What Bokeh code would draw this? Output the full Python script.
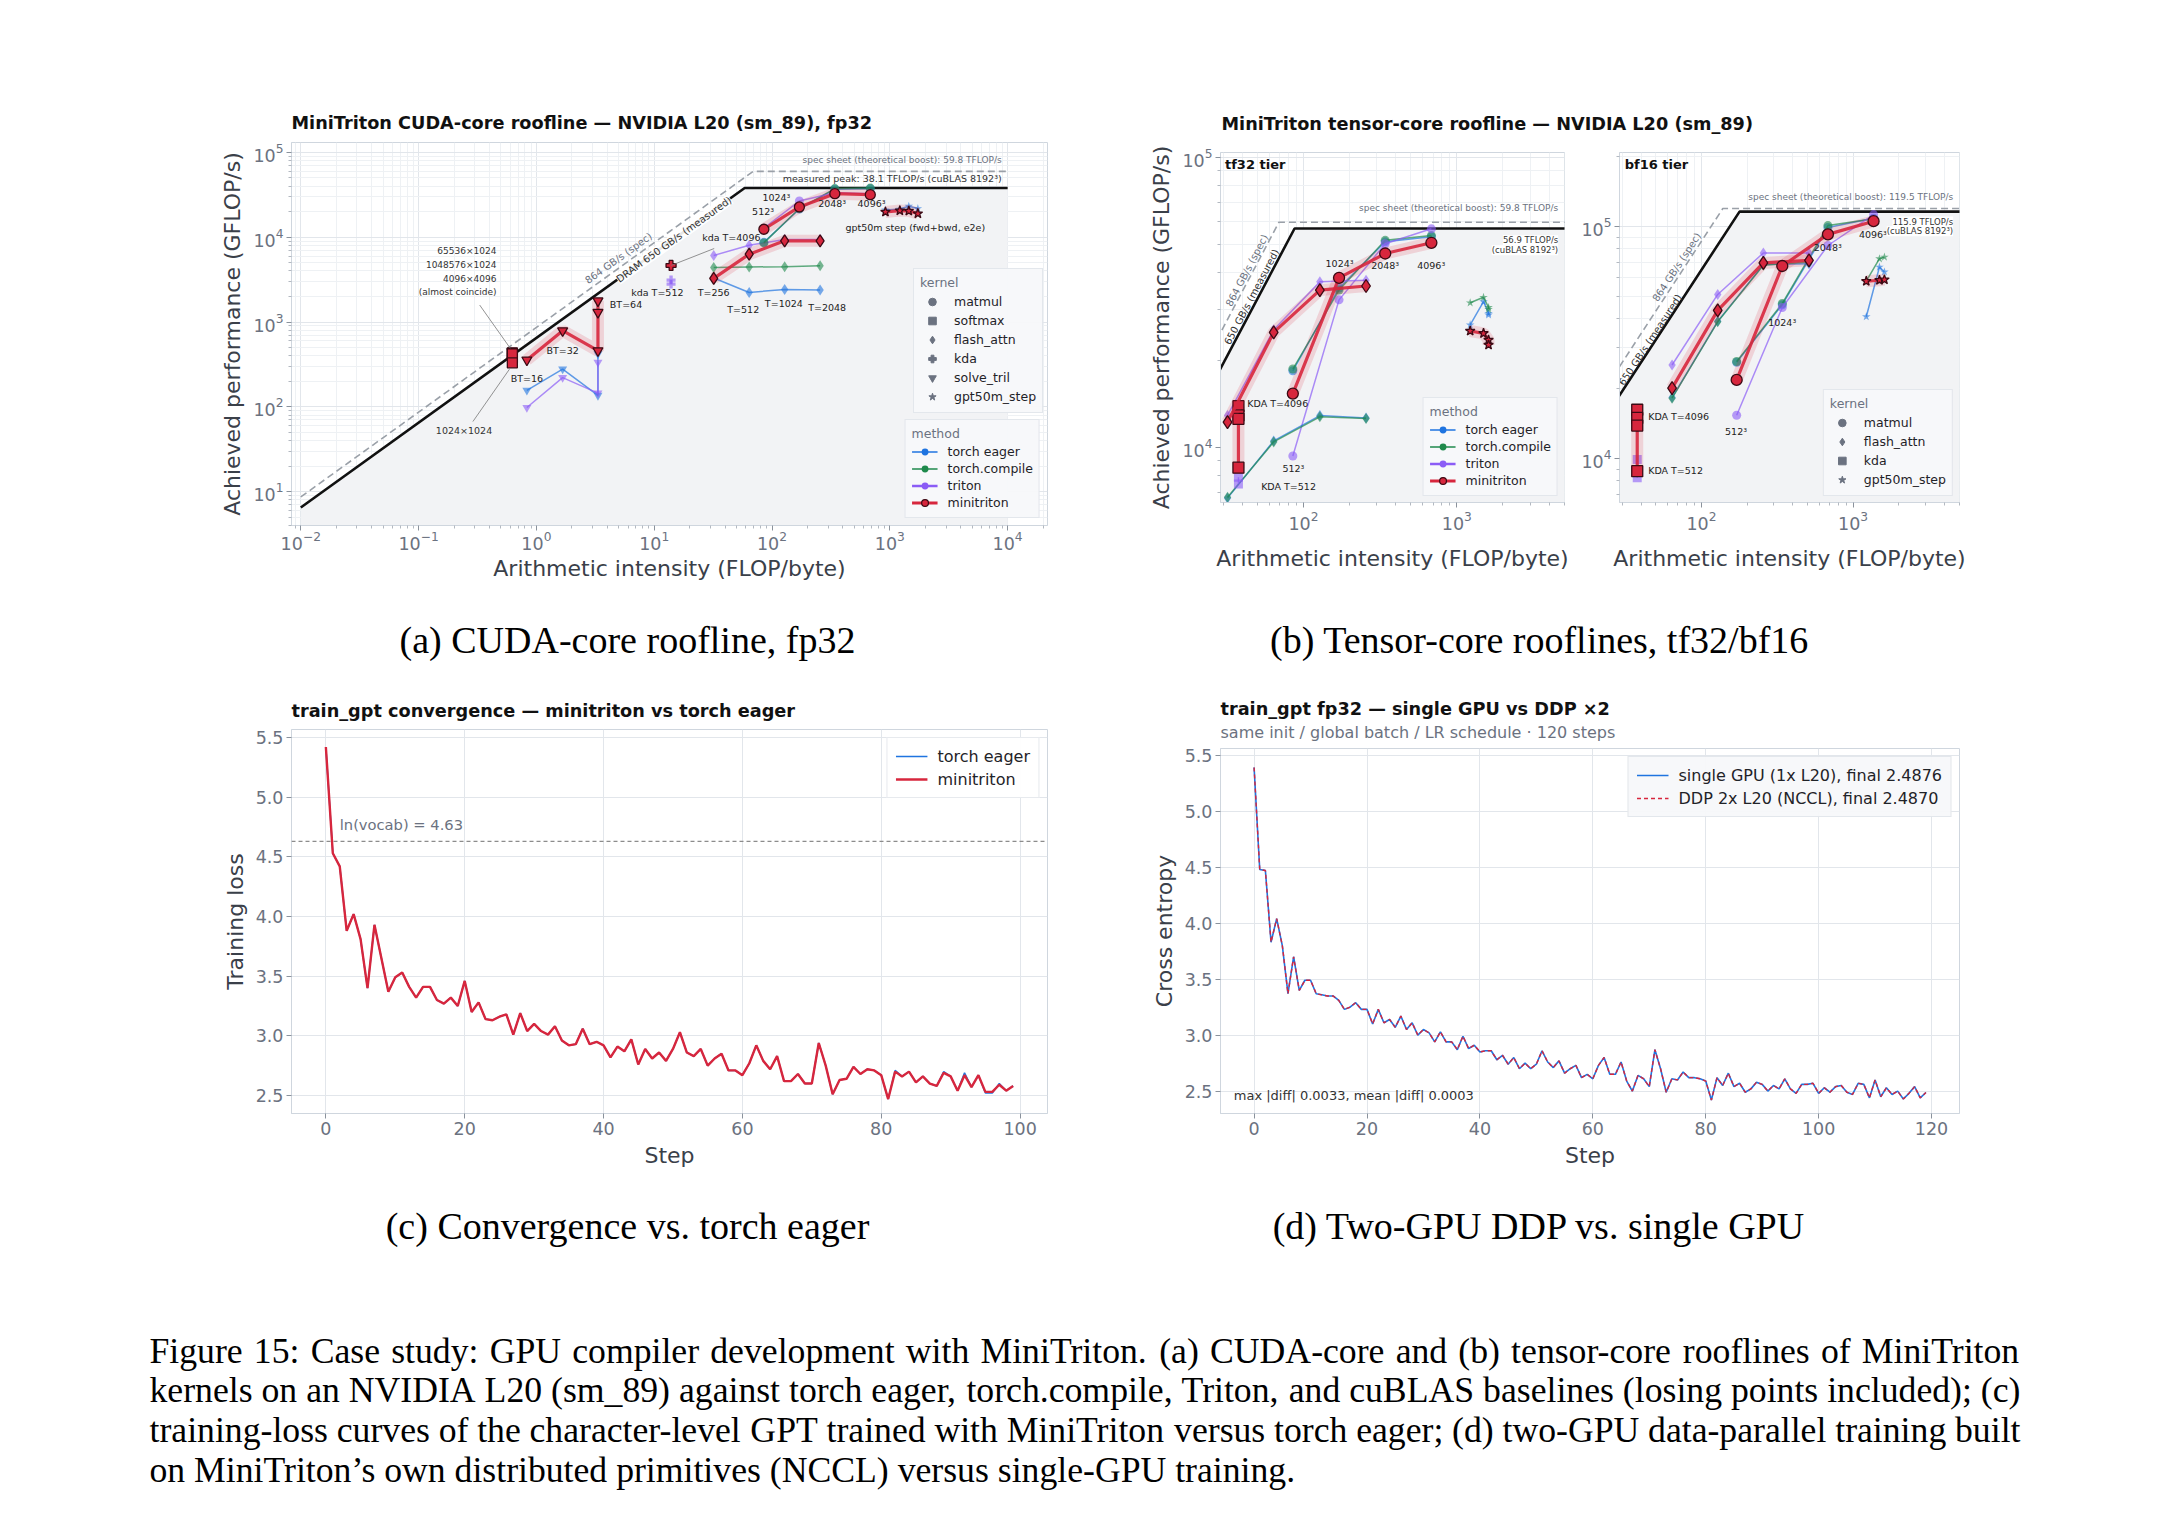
import numpy as np
from bokeh.plotting import figure
from bokeh.models import (Range1d, FixedTicker, LogTickFormatter, Legend, LegendItem,
                          Title, Label, Span, NumeralTickFormatter, Spacer)
from bokeh.layouts import column, row
from bokeh.core.properties import value
from bokeh.embed import file_html
from bokeh.resources import INLINE

FONT = "DejaVu Sans"
SERIF = "Liberation Serif"
C_EAGER = "#1f74e0"
C_COMPILE = "#1f8a4c"
C_TRITON = "#8b5cf6"
C_MINI = "#d7263d"
C_EDGE = "#3b0a14"
C_KERNEL = "#6b7280"
TICK_C = "#6b7280"
LABEL_C = "#3a4049"
GRID_C = "#e2e6eb"
MINOR_C = "#eef1f4"
SPINE_C = "#cfd6de"
SHADE_C = "#f2f3f5"
TITLE_SIZE = "17.7px"
TICK_SIZE = "17.5px"
AXLABEL_SIZE = "22px"

# ---------------- panel (a): CUDA-core roofline, fp32 ----------------
A_BW_MEAS, A_PEAK_MEAS = 650.0, 38100.0
A_BW_SPEC, A_PEAK_SPEC = 864.0, 59800.0
A_XTICKS = [1e-2, 1e-1, 1e0, 1e1, 1e2, 1e3, 1e4]
A_YTICKS = [1e1, 1e2, 1e3, 1e4, 1e5]

A_SOFTMAX_AI = [0.625, 0.625, 0.625, 0.625]
A_SOFTMAX_MINI = [432, 426, 420, 330]

A_TRIL_AI_MINI = [0.83, 1.67, 3.33, 3.33, 3.33]
A_TRIL_MINI = [357, 790, 459, 1300, 1780]
A_TRIL_AI_BASE = [0.83, 1.67, 3.33, 3.33]
A_TRIL_EAGER = [156, 278, 136, 420]
A_TRIL_TRITON = [98, 221, 145, 335]

A_KDA_AI_MINI = [13.9]
A_KDA_MINI = [4650]
A_KDA_AI_TRITON = [13.9, 13.9]
A_KDA_TRITON = [3120, 2800]

A_FLASH_AI = [32, 64, 128, 256]
A_FLASH_MINI = [3270, 6310, 9060, 9060]
A_FLASH_COMPILE = [4400, 4450, 4500, 4600]
A_FLASH_EAGER = [3300, 2230, 2425, 2380]
A_FLASH_TRITON = [6100, 8050, 9400, 9400]

A_MM_AI = [85.3, 170.7, 341.3, 682.7]
A_MM_MINI = [12420, 22750, 32650, 31770]
A_MM_COMPILE = [8570, 21790, 37440, 38000]
A_MM_EAGER = [8700, 21500, 37000, 37500]
A_MM_TRITON = [12800, 26730, 33500, 32500]

A_GPT_AI = [918, 1216, 1449, 1730]
A_GPT_MINI = [19870, 20610, 20390, 19010]
A_GPT_EAGER = [21000, 21500, 23200, 21800]

# ---------------- panel (b): tensor-core rooflines ----------------
B_BW_MEAS, B_BW_SPEC = 650.0, 864.0
TF32_PEAK_MEAS, TF32_PEAK_SPEC = 56900.0, 59800.0
BF16_PEAK_MEAS, BF16_PEAK_SPEC = 115900.0, 119500.0
B_XTICKS = [1e2, 1e3]
B_YTICKS = [1e4, 1e5]

TF_MM_AI = [85.3, 170.7, 341.3, 682.7]
TF_MM_MINI = [15350, 38460, 46660, 50800]
TF_MM_COMPILE = [18660, 34900, 51800, 53800]
TF_MM_EAGER = [18400, 35500, 51200, 53300]
TF_MM_TRITON = [9360, 32300, 50400, 56750]

TF_FA_AI = [32, 64, 128, 256]
TF_FA_MINI = [12250, 24950, 34900, 36060]
TF_FA_TRITON = [12910, 25460, 37260, 37750]
TF_FA_COMPILE = [6740, 10460, 12770, 12610]
TF_FA_EAGER = [6700, 10550, 12900, 12650]

TF_KDA_AI = [37.7, 37.7, 37.7, 37.7]
TF_KDA_MINI = [13890, 12910, 12570, 8530]
TF_KDA_AI_TRITON = [37.7, 37.7]
TF_KDA_TRITON = [7900, 7500]

TF_GPT_AI = [1222, 1493, 1610, 1610]
TF_GPT_MINI = [25230, 24770, 23490, 22590]
TF_GPT_COMPILE = [31560, 32960, 30430, 29970]
TF_GPT_EAGER = [26490, 31840, 29040, 28660]

BF_MM_AI = [170.7, 341.3, 682.7, 1365.3]
BF_MM_MINI = [21810, 67570, 92470, 105400]
BF_MM_COMPILE = [26180, 46560, 100900, 107900]
BF_MM_EAGER = [26000, 46000, 99000, 108500]
BF_MM_TRITON = [15350, 44770, 82800, 112500]

BF_FA_AI = [64, 128, 256, 512]
BF_FA_MINI = [20100, 43510, 69660, 71470]
BF_FA_TRITON = [25290, 50930, 76900, 76900]
BF_FA_COMPILE = [18200, 38820, 68060, 70300]
BF_FA_EAGER = [18300, 39000, 68500, 69000]

BF_KDA_AI = [37.7, 37.7, 37.7, 37.7]
BF_KDA_MINI = [16220, 14950, 13860, 8820]
BF_KDA_AI_TRITON = [37.7, 37.7]
BF_KDA_TRITON = [9900, 8260]

BF_GPT_AI = [1222, 1493, 1610]
BF_GPT_MINI = [58070, 58660, 59000]
BF_GPT_COMPILE = [58070, 72600, 73800]
BF_GPT_EAGER = [40830, 66860, 63700]

# ---------------- panel (c): convergence ----------------
C_STEP = list(range(100))
C_MINI_LOSS = [5.42, 4.53, 4.42, 3.88, 4.02, 3.81, 3.40, 3.93, 3.65, 3.37,
               3.49, 3.53, 3.41, 3.32, 3.41, 3.41, 3.30, 3.27, 3.32, 3.25,
               3.46, 3.20, 3.28, 3.14, 3.13, 3.16, 3.18, 3.01, 3.19, 3.04,
               3.10, 3.04, 3.01, 3.08, 2.96, 2.92, 2.93, 3.06, 2.93, 2.95,
               2.92, 2.82, 2.91, 2.87, 2.97, 2.76, 2.89, 2.81, 2.86, 2.79,
               2.89, 3.03, 2.86, 2.83, 2.89, 2.75, 2.81, 2.85, 2.71, 2.71,
               2.67, 2.77, 2.92, 2.79, 2.72, 2.83, 2.62, 2.62, 2.68, 2.60,
               2.60, 2.94, 2.75, 2.51, 2.63, 2.64, 2.74, 2.68, 2.72, 2.71,
               2.67, 2.47, 2.70, 2.66, 2.70, 2.61, 2.66, 2.60, 2.58, 2.69,
               2.66, 2.54, 2.67, 2.57, 2.67, 2.53, 2.53, 2.59, 2.54, 2.58]
C_EAGER_LOSS = [5.42, 4.53, 4.42, 3.88, 4.02, 3.81, 3.40, 3.93, 3.65, 3.37,
                3.49, 3.53, 3.41, 3.32, 3.41, 3.41, 3.30, 3.27, 3.32, 3.25,
                3.46, 3.20, 3.28, 3.14, 3.13, 3.16, 3.18, 3.01, 3.19, 3.04,
                3.10, 3.04, 3.01, 3.08, 2.96, 2.92, 2.93, 3.06, 2.93, 2.95,
                2.92, 2.82, 2.91, 2.87, 2.97, 2.76, 2.89, 2.81, 2.86, 2.79,
                2.89, 3.03, 2.86, 2.83, 2.89, 2.75, 2.81, 2.85, 2.71, 2.71,
                2.67, 2.77, 2.92, 2.79, 2.72, 2.83, 2.62, 2.62, 2.68, 2.60,
                2.60, 2.94, 2.75, 2.51, 2.63, 2.64, 2.74, 2.68, 2.72, 2.71,
                2.67, 2.47, 2.71, 2.66, 2.70, 2.61, 2.66, 2.60, 2.58, 2.70,
                2.66, 2.54, 2.69, 2.57, 2.67, 2.52, 2.52, 2.60, 2.54, 2.58]
C_VOCAB_LN = 4.63
C_XTICKS = [0, 20, 40, 60, 80, 100]
C_YTICKS = [2.5, 3.0, 3.5, 4.0, 4.5, 5.0, 5.5]

# ---------------- panel (d): DDP vs single GPU ----------------
D_STEP = list(range(120))
D_SINGLE = [5.39, 4.48, 4.47, 3.83, 4.04, 3.80, 3.37, 3.70, 3.40, 3.49,
            3.49, 3.37, 3.36, 3.35, 3.35, 3.31, 3.23, 3.25, 3.29, 3.23,
            3.23, 3.10, 3.23, 3.11, 3.14, 3.07, 3.17, 3.05, 3.11, 3.00,
            3.05, 3.02, 2.94, 3.03, 2.94, 2.94, 2.87, 2.99, 2.88, 2.91,
            2.85, 2.86, 2.86, 2.78, 2.82, 2.74, 2.80, 2.70, 2.75, 2.70,
            2.74, 2.86, 2.76, 2.71, 2.77, 2.66, 2.70, 2.73, 2.62, 2.65,
            2.61, 2.73, 2.80, 2.65, 2.65, 2.76, 2.59, 2.50, 2.64, 2.61,
            2.54, 2.87, 2.70, 2.49, 2.61, 2.60, 2.67, 2.62, 2.62, 2.61,
            2.59, 2.42, 2.62, 2.55, 2.66, 2.54, 2.57, 2.49, 2.52, 2.58,
            2.56, 2.50, 2.55, 2.52, 2.61, 2.52, 2.48, 2.56, 2.56, 2.57,
            2.48, 2.53, 2.49, 2.54, 2.55, 2.49, 2.47, 2.57, 2.56, 2.44,
            2.60, 2.45, 2.53, 2.47, 2.50, 2.43, 2.48, 2.54, 2.44, 2.4876]
D_DDP = [5.39, 4.48, 4.47, 3.83, 4.04, 3.80, 3.37, 3.70, 3.40, 3.49,
         3.49, 3.37, 3.36, 3.35, 3.35, 3.31, 3.23, 3.25, 3.29, 3.23,
         3.23, 3.10, 3.23, 3.11, 3.14, 3.07, 3.17, 3.05, 3.11, 3.00,
         3.05, 3.02, 2.94, 3.03, 2.94, 2.94, 2.87, 2.99, 2.88, 2.91,
         2.85, 2.86, 2.86, 2.78, 2.82, 2.74, 2.80, 2.70, 2.75, 2.70,
         2.74, 2.86, 2.76, 2.71, 2.77, 2.66, 2.70, 2.73, 2.62, 2.65,
         2.61, 2.73, 2.80, 2.65, 2.65, 2.76, 2.59, 2.50, 2.64, 2.61,
         2.54, 2.87, 2.70, 2.49, 2.61, 2.60, 2.67, 2.62, 2.62, 2.61,
         2.59, 2.42, 2.62, 2.55, 2.66, 2.54, 2.57, 2.49, 2.52, 2.58,
         2.56, 2.50, 2.55, 2.52, 2.61, 2.52, 2.48, 2.56, 2.56, 2.57,
         2.48, 2.53, 2.49, 2.54, 2.55, 2.49, 2.47, 2.57, 2.56, 2.44,
         2.60, 2.45, 2.53, 2.47, 2.50, 2.43, 2.48, 2.54, 2.44, 2.4870]
D_XTICKS = [0, 20, 40, 60, 80, 100, 120]
D_YTICKS = [2.5, 3.0, 3.5, 4.0, 4.5, 5.0, 5.5]

MINOR_LOG = [k * 10.0 ** d for d in range(-3, 6) for k in range(2, 10)]

CAPTION = [
    "Figure 15: Case study: GPU compiler development with MiniTriton. (a) CUDA-core and (b) tensor-core rooflines of MiniTriton",
    "kernels on an NVIDIA L20 (sm_89) against torch eager, torch.compile, Triton, and cuBLAS baselines (losing points included); (c)",
    "training-loss curves of the character-level GPT trained with MiniTriton versus torch eager; (d) two-GPU data-parallel training built",
    "on MiniTriton\u2019s own distributed primitives (NCCL) versus single-GPU training.",
]

# Times/Liberation Serif advance widths (per 1000 em), used to justify the caption
_TW = {" ": 250, "(": 333, ")": 333, ",": 250, "-": 333, ".": 250, ":": 278, ";": 278,
       "_": 500, "\u2019": 333, "/": 278}
for _c in "0123456789":
    _TW[_c] = 500
_TW.update(dict(zip("ABCDEFGHIJKLMNOPQRSTUVWXYZ",
                    [722, 667, 667, 722, 611, 556, 722, 722, 333, 389, 722, 611, 889,
                     722, 722, 556, 722, 667, 556, 611, 722, 722, 944, 722, 722, 611])))
_TW.update(dict(zip("abcdefghijklmnopqrstuvwxyz",
                    [444, 500, 444, 500, 444, 333, 500, 500, 278, 278, 500, 278, 778,
                     500, 500, 500, 500, 333, 389, 278, 500, 500, 722, 500, 500, 444])))


def serif_width(s, size):
    return sum(_TW.get(ch, 500) for ch in s) / 1000.0 * size


# ---------------- helpers ----------------
def base_fig(w, h, xr, yr, xtype, ytype, bl, br, bt, bb):
    p = figure(width=w, height=h, x_range=Range1d(*xr), y_range=Range1d(*yr),
               x_axis_type=xtype, y_axis_type=ytype, output_backend="svg",
               toolbar_location=None, title=None,
               min_border_left=bl, min_border_right=br, min_border_top=bt, min_border_bottom=bb)
    p.background_fill_color = "white"
    p.border_fill_color = "white"
    p.outline_line_color = SPINE_C
    p.outline_line_width = 1
    for ax in [p.xaxis[0], p.yaxis[0]]:
        ax.axis_line_color = SPINE_C
        ax.major_tick_line_color = "#8a929c"
        ax.minor_tick_line_color = "#b3b9c1"
        ax.major_tick_in = 0
        ax.major_tick_out = 5
        ax.minor_tick_in = 0
        ax.minor_tick_out = 3
        ax.major_label_standoff = 3
        ax.major_label_text_font = FONT
        ax.major_label_text_font_size = TICK_SIZE
        ax.major_label_text_color = TICK_C
        ax.axis_label_text_font = FONT
        ax.axis_label_text_font_size = AXLABEL_SIZE
        ax.axis_label_text_font_style = "normal"
        ax.axis_label_text_color = LABEL_C
        ax.axis_label_standoff = 5
    p.xgrid.grid_line_color = GRID_C
    p.ygrid.grid_line_color = GRID_C
    return p


def log_ticks(p, xt, yt):
    p.xaxis[0].ticker = FixedTicker(ticks=xt, minor_ticks=MINOR_LOG)
    p.yaxis[0].ticker = FixedTicker(ticks=yt, minor_ticks=MINOR_LOG)
    p.xaxis[0].formatter = LogTickFormatter()
    p.yaxis[0].formatter = LogTickFormatter()
    p.xgrid.minor_grid_line_color = MINOR_C
    p.ygrid.minor_grid_line_color = MINOR_C


def txt(p, x, y, s, size, color="#222222", align="left", baseline="middle",
        style="normal", angle=0.0, font=FONT):
    p.text(x=[x], y=[y], text=[s], text_font=value(font), text_font_size=size,
           text_color=color, text_align=align, text_baseline=baseline,
           text_font_style=style, angle=angle)


def box_label(p, x, y, s, size, color="#222222", align="center", angle=0.0, alpha=0.9):
    p.add_layout(Label(x=x, y=y, text=s, text_font=FONT, text_font_size=size,
                       text_color=color, text_align=align, text_baseline="middle",
                       angle=angle, background_fill_color="white",
                       background_fill_alpha=alpha))


def draw_roof(p, x0, x1, bw_m, pk_m, bw_s, pk_s, ybot):
    xm = [x0, pk_m / bw_m, x1]
    ym = [min(bw_m * x, pk_m) for x in xm]
    xs = [x0, pk_s / bw_s, x1]
    ys = [min(bw_s * x, pk_s) for x in xs]
    p.varea(x=xm, y1=[ybot] * 3, y2=ym, fill_color=SHADE_C)
    p.line(xs, ys, line_color="#9aa0a8", line_dash="7 4", line_width=1.6)
    p.line(xm, ym, line_color="#111111", line_width=2.6)


def series(p, ai, perf, method, marker, msize=None):
    if method == "minitriton":
        p.line(ai, perf, line_color=C_MINI, line_width=12, line_alpha=0.16)
        p.line(ai, perf, line_color=C_MINI, line_width=3.2, line_alpha=0.9)
        p.scatter(ai, perf, marker=marker, size=msize or 11, fill_color=C_MINI,
                  line_color=C_EDGE, line_width=1.3)
    else:
        col = {"eager": C_EAGER, "compile": C_COMPILE, "triton": C_TRITON}[method]
        p.line(ai, perf, line_color=col, line_width=1.5, line_alpha=0.7)
        p.scatter(ai, perf, marker=marker, size=msize or 9, fill_color=col,
                  line_color=None, fill_alpha=0.6)


def style_legend(lg, size, gh=18):
    lg.label_text_font = FONT
    lg.label_text_font_size = size
    lg.label_text_color = "#1f2328"
    lg.title_text_font = FONT
    lg.title_text_font_size = size
    lg.title_text_font_style = "normal"
    lg.title_text_color = "#6b7280"
    lg.background_fill_color = "#f7f8fa"
    lg.background_fill_alpha = 0.95
    lg.border_line_color = "#cfd6de"
    lg.border_line_width = 1
    lg.glyph_width = 26
    lg.glyph_height = gh
    lg.label_standoff = 10
    lg.spacing = 0
    lg.padding = 6
    lg.title_standoff = 2
    lg.label_height = 14


def method_legend(p, loc, size, margin=6):
    items = []
    for name, col, lw, edge in [("torch eager", C_EAGER, 1.5, None),
                                ("torch.compile", C_COMPILE, 1.5, None),
                                ("triton", C_TRITON, 2.5, None),
                                ("minitriton", C_MINI, 3.2, C_EDGE)]:
        r1 = p.line([np.nan], [np.nan], line_color=col, line_width=lw)
        r2 = p.scatter([np.nan], [np.nan], marker="circle", size=8, fill_color=col,
                       line_color=edge, line_width=1.2)
        items.append(LegendItem(label=name, renderers=[r1, r2]))
    lg = Legend(items=items, title="method", location=loc, margin=margin)
    style_legend(lg, size, gh=17)
    p.add_layout(lg, "center")


def kernel_legend(p, names, markers, loc, size, margin=6):
    items = []
    for name, mk in zip(names, markers):
        r = p.scatter([np.nan], [np.nan], marker=mk, size=12, fill_color=C_KERNEL,
                      line_color=C_KERNEL)
        items.append(LegendItem(label=name, renderers=[r]))
    lg = Legend(items=items, title="kernel", location=loc, margin=margin)
    style_legend(lg, size, gh=19)
    lg.glyph_width = 24
    p.add_layout(lg, "center")


def text_fig(w, h):
    p = figure(width=w, height=h, x_range=Range1d(0, w), y_range=Range1d(h, 0),
               output_backend="svg", toolbar_location=None, title=None,
               x_axis_location=None, y_axis_location=None,
               min_border=0, min_border_left=0, min_border_right=0,
               min_border_top=0, min_border_bottom=0)
    p.grid.visible = False
    p.outline_line_color = None
    p.background_fill_color = "white"
    p.border_fill_color = "white"
    return p


# ---------------- header ----------------
hdr = text_fig(2160, 135)
txt(hdr, 291, 122, "MiniTriton CUDA-core roofline \u2014 NVIDIA L20 (sm_89), fp32", TITLE_SIZE,
    color="#111111", style="bold")
txt(hdr, 1221, 123, "MiniTriton tensor-core roofline \u2014 NVIDIA L20 (sm_89)", TITLE_SIZE,
    color="#111111", style="bold")

# ---------------- panel (a) ----------------
pa = base_fig(1110, 460, (0.00834, 21800), (3.98, 131000), "log", "log", 291, 63, 7, 70)
log_ticks(pa, A_XTICKS, A_YTICKS)
pa.xaxis.axis_label = "Arithmetic intensity (FLOP/byte)"
pa.yaxis.axis_label = "Achieved performance (GFLOP/s)"
pa.xaxis[0].major_label_standoff = 0
pa.xaxis[0].axis_label_standoff = 3
draw_roof(pa, 0.01, 1e4, A_BW_MEAS, A_PEAK_MEAS, A_BW_SPEC, A_PEAK_SPEC, 1.0)

series(pa, A_TRIL_AI_BASE, A_TRIL_EAGER, "eager", "inverted_triangle")
series(pa, A_TRIL_AI_BASE, A_TRIL_TRITON, "triton", "inverted_triangle")
series(pa, A_KDA_AI_TRITON, A_KDA_TRITON, "triton", "plus")
series(pa, A_FLASH_AI, A_FLASH_COMPILE, "compile", "diamond", 11)
series(pa, A_FLASH_AI, A_FLASH_EAGER, "eager", "diamond", 11)
series(pa, A_FLASH_AI, A_FLASH_TRITON, "triton", "diamond", 11)
series(pa, A_MM_AI, A_MM_EAGER, "eager", "circle")
series(pa, A_MM_AI, A_MM_COMPILE, "compile", "circle")
series(pa, A_MM_AI, A_MM_TRITON, "triton", "circle")
series(pa, A_GPT_AI, A_GPT_EAGER, "eager", "star")
series(pa, A_SOFTMAX_AI, A_SOFTMAX_MINI, "minitriton", "square", 10)
series(pa, A_TRIL_AI_MINI, A_TRIL_MINI, "minitriton", "inverted_triangle", 10)
series(pa, A_KDA_AI_MINI, A_KDA_MINI, "minitriton", "plus", 10)
series(pa, A_FLASH_AI, A_FLASH_MINI, "minitriton", "diamond", 12)
series(pa, A_MM_AI, A_MM_MINI, "minitriton", "circle", 10)
series(pa, A_GPT_AI, A_GPT_MINI, "minitriton", "star", 10)

txt(pa, 8900, 80600, "spec sheet (theoretical boost): 59.8 TFLOP/s", "9px", color="#6b7280", align="right")
txt(pa, 8900, 49900, "measured peak: 38.1 TFLOP/s (cuBLAS 8192\u00b3)", "9.5px", color="#333333", align="right")
txt(pa, 4.98, 5660, "864 GB/s (spec)", "10px", color="#6b7280", align="center", angle=0.623)
box_label(pa, 14.7, 9420, "DRAM 650 GB/s (measured)", "10px", color="#333333", angle=0.623)
for yy, s in [(6840, "65536\u00d71024"), (4690, "1048576\u00d71024"), (3210, "4096\u00d74096"),
              (2250, "(almost coincide)")]:
    txt(pa, 0.458, yy, s, "9px", color="#333333", align="right")
pa.line([0.33, 0.6], [1585, 490], line_color="#777777", line_width=0.8)
pa.line([0.289, 0.59], [67, 277], line_color="#777777", line_width=0.8)
txt(pa, 0.243, 52.6, "1024\u00d71024", "9.5px", color="#333333", align="center")
txt(pa, 0.83, 215, "BT=16", "9.5px", color="#222222", align="center")
txt(pa, 1.67, 459, "BT=32", "9.5px", color="#222222", align="center")
txt(pa, 4.2, 1614, "BT=64", "9.5px", color="#222222", align="left")
pa.line([13.9, 32.3], [4645, 7360], line_color="#777777", line_width=0.8)
txt(pa, 79.8, 9910, "kda T=4096", "9.5px", color="#222222", align="right")
txt(pa, 6.38, 2210, "kda T=512", "9.5px", color="#222222", align="left")
txt(pa, 32, 2210, "T=256", "9.5px", color="#222222", align="center")
txt(pa, 57, 1410, "T=512", "9.5px", color="#222222", align="center")
txt(pa, 126, 1660, "T=1024", "9.5px", color="#222222", align="center")
txt(pa, 294, 1472, "T=2048", "9.5px", color="#222222", align="center")
txt(pa, 84, 20230, "512\u00b3", "9.5px", color="#222222", align="center")
txt(pa, 109, 29800, "1024\u00b3", "9.5px", color="#222222", align="center")
txt(pa, 324, 24900, "2048\u00b3", "9.5px", color="#222222", align="center")
txt(pa, 700, 24900, "4096\u00b3", "9.5px", color="#222222", align="center")
txt(pa, 420, 13000, "gpt50m step (fwd+bwd, e2e)", "9.5px", color="#222222", align="left")

kernel_legend(pa, ["matmul", "softmax", "flash_attn", "kda", "solve_tril", "gpt50m_step"],
              ["circle", "square", "diamond", "plus", "inverted_triangle", "star"],
              (622, 112), "12.5px")
method_legend(pa, "bottom_right", "12.5px", margin=7)

# ---------------- panel (b) tf32 ----------------
pb1 = base_fig(468, 428, (28.8, 5035), (6470, 104000), "log", "log", 110, 14, 7, 70)
log_ticks(pb1, B_XTICKS, B_YTICKS)
pb1.xaxis.axis_label = "Arithmetic intensity (FLOP/byte)"
pb1.yaxis.axis_label = "Achieved performance (GFLOP/s)"
pb1.xaxis[0].axis_label_standoff = 13
draw_roof(pb1, 20, 8000, B_BW_MEAS, TF32_PEAK_MEAS, B_BW_SPEC, TF32_PEAK_SPEC, 100.0)

series(pb1, TF_MM_AI, TF_MM_EAGER, "eager", "circle")
series(pb1, TF_MM_AI, TF_MM_COMPILE, "compile", "circle")
series(pb1, TF_MM_AI, TF_MM_TRITON, "triton", "circle")
series(pb1, TF_FA_AI, TF_FA_EAGER, "eager", "diamond", 11)
series(pb1, TF_FA_AI, TF_FA_COMPILE, "compile", "diamond", 11)
series(pb1, TF_FA_AI, TF_FA_TRITON, "triton", "diamond", 11)
series(pb1, TF_KDA_AI_TRITON, TF_KDA_TRITON, "triton", "square")
series(pb1, TF_GPT_AI, TF_GPT_EAGER, "eager", "star")
series(pb1, TF_GPT_AI, TF_GPT_COMPILE, "compile", "star")
series(pb1, TF_KDA_AI, TF_KDA_MINI, "minitriton", "square", 11)
series(pb1, TF_FA_AI, TF_FA_MINI, "minitriton", "diamond", 13)
series(pb1, TF_MM_AI, TF_MM_MINI, "minitriton", "circle", 11)
series(pb1, TF_GPT_AI, TF_GPT_MINI, "minitriton", "star", 10)

txt(pb1, 30.8, 94400, "tf32 tier", "13px", color="#111111", style="bold")
txt(pb1, 4580, 66700, "spec sheet (theoretical boost): 59.8 TFLOP/s", "9px", color="#6b7280", align="right")
box_label(pb1, 4580, 51800, "56.9 TFLOP/s", "8.5px", color="#333333", align="right", alpha=1.0)
box_label(pb1, 4580, 47900, "(cuBLAS 8192\u00b3)", "8.5px", color="#333333", align="right", alpha=1.0)
txt(pb1, 42.8, 40820, "864 GB/s (spec)", "10px", color="#6b7280", align="center", angle=1.087)
txt(pb1, 46, 33100, "650 GB/s (measured)", "10px", color="#333333", align="center", angle=1.087)
txt(pb1, 172, 43250, "1024\u00b3", "9.5px", color="#222222", align="center")
txt(pb1, 341, 42460, "2048\u00b3", "9.5px", color="#222222", align="center")
txt(pb1, 681, 42300, "4096\u00b3", "9.5px", color="#222222", align="center")
txt(pb1, 86, 8470, "512\u00b3", "9.5px", color="#222222", align="center")
txt(pb1, 43.1, 14160, "KDA T=4096", "9.5px", color="#222222", align="left")
txt(pb1, 53, 7350, "KDA T=512", "9.5px", color="#222222", align="left")
method_legend(pb1, "bottom_right", "12.5px", margin=6)

# ---------------- panel (b) bf16 ----------------
pb2 = base_fig(582, 428, (28.8, 5035), (6460, 208400), "log", "log", 38, 201, 7, 70)
log_ticks(pb2, B_XTICKS, B_YTICKS)
pb2.xaxis.axis_label = "Arithmetic intensity (FLOP/byte)"
pb2.xaxis[0].axis_label_standoff = 13
draw_roof(pb2, 20, 8000, B_BW_MEAS, BF16_PEAK_MEAS, B_BW_SPEC, BF16_PEAK_SPEC, 100.0)

series(pb2, BF_MM_AI, BF_MM_EAGER, "eager", "circle")
series(pb2, BF_MM_AI, BF_MM_COMPILE, "compile", "circle")
series(pb2, BF_MM_AI, BF_MM_TRITON, "triton", "circle")
series(pb2, BF_FA_AI, BF_FA_EAGER, "eager", "diamond", 11)
series(pb2, BF_FA_AI, BF_FA_COMPILE, "compile", "diamond", 11)
series(pb2, BF_FA_AI, BF_FA_TRITON, "triton", "diamond", 11)
series(pb2, BF_KDA_AI_TRITON, BF_KDA_TRITON, "triton", "square")
series(pb2, BF_GPT_AI, BF_GPT_EAGER, "eager", "star")
series(pb2, BF_GPT_AI, BF_GPT_COMPILE, "compile", "star")
series(pb2, BF_KDA_AI, BF_KDA_MINI, "minitriton", "square", 11)
series(pb2, BF_FA_AI, BF_FA_MINI, "minitriton", "diamond", 13)
series(pb2, BF_MM_AI, BF_MM_MINI, "minitriton", "circle", 11)
series(pb2, BF_GPT_AI, BF_GPT_MINI, "minitriton", "star", 10)

txt(pb2, 31.2, 184600, "bf16 tier", "13px", color="#111111", style="bold")
txt(pb2, 4570, 134600, "spec sheet (theoretical boost): 119.5 TFLOP/s", "9px", color="#6b7280", align="right")
box_label(pb2, 4570, 105000, "115.9 TFLOP/s", "8.5px", color="#333333", align="right", alpha=1.0)
box_label(pb2, 4570, 95300, "(cuBLAS 8192\u00b3)", "8.5px", color="#333333", align="right", alpha=1.0)
txt(pb2, 68.7, 66840, "864 GB/s (spec)", "10px", color="#6b7280", align="center", angle=0.99)
txt(pb2, 46, 32450, "650 GB/s (measured)", "10px", color="#333333", align="center", angle=0.99)
txt(pb2, 169, 13020, "512\u00b3", "9.5px", color="#222222", align="center")
txt(pb2, 341, 38470, "1024\u00b3", "9.5px", color="#222222", align="center")
txt(pb2, 681, 81420, "2048\u00b3", "9.5px", color="#222222", align="center")
txt(pb2, 1352, 92100, "4096\u00b3", "9.5px", color="#222222", align="center")
txt(pb2, 44.5, 15100, "KDA T=4096", "9.5px", color="#222222", align="left")
txt(pb2, 44.5, 8910, "KDA T=512", "9.5px", color="#222222", align="left")
kernel_legend(pb2, ["matmul", "flash_attn", "kda", "gpt50m_step"],
              ["circle", "diamond", "square", "star"], "bottom_right", "12.5px", margin=6)

# ---------------- subcaptions (a)/(b) ----------------
mid = text_fig(2160, 66)
txt(mid, 627, 44, "(a) CUDA-core roofline, fp32", "38px", color="#000000", align="center", font=SERIF)
txt(mid, 1539, 44, "(b) Tensor-core rooflines, tf32/bf16", "38px", color="#000000", align="center", font=SERIF)

# ---------------- panel (c) ----------------
pc = base_fig(1110, 519, (-4.95, 103.95), (2.349, 5.567), "linear", "linear", 291, 63, 68, 67)
pc.xaxis[0].ticker = FixedTicker(ticks=C_XTICKS)
pc.yaxis[0].ticker = FixedTicker(ticks=C_YTICKS)
pc.yaxis[0].formatter = NumeralTickFormatter(format="0.0")
pc.xaxis.axis_label = "Step"
pc.yaxis.axis_label = "Training loss"
pc.xaxis[0].minor_tick_out = 0
pc.yaxis[0].minor_tick_out = 0
pc.add_layout(Title(text="train_gpt convergence \u2014 minitriton vs torch eager", align="left",
                    text_font=FONT, text_font_size=TITLE_SIZE, text_font_style="bold",
                    text_color="#111111", standoff=17), "above")
pc.add_layout(Span(location=C_VOCAB_LN, dimension="width", line_color="#8c8c8c",
                   line_dash="4 3", line_width=1.2))
txt(pc, 2.0, 4.773, "ln(vocab) = 4.63", "14.7px", color="#6b7280", align="left")
rc1 = pc.line(C_STEP, C_EAGER_LOSS, line_color=C_EAGER, line_width=1.5)
rc2 = pc.line(C_STEP, C_MINI_LOSS, line_color=C_MINI, line_width=2.4)
lgc = Legend(items=[LegendItem(label="torch eager", renderers=[rc1]),
                    LegendItem(label="minitriton", renderers=[rc2])],
             location="top_right", margin=8)
style_legend(lgc, "16px", gh=20)
lgc.spacing = 3
lgc.padding = 8
lgc.glyph_width = 32
lgc.background_fill_color = "white"
pc.add_layout(lgc, "center")

# ---------------- panel (d) ----------------
pd_ = base_fig(1050, 500, (-5.95, 124.95), (2.30, 5.56), "linear", "linear", 110, 201, 68, 67)
pd_.xaxis[0].ticker = FixedTicker(ticks=D_XTICKS)
pd_.yaxis[0].ticker = FixedTicker(ticks=D_YTICKS)
pd_.yaxis[0].formatter = NumeralTickFormatter(format="0.0")
pd_.xaxis.axis_label = "Step"
pd_.yaxis.axis_label = "Cross entropy"
pd_.xaxis[0].minor_tick_out = 0
pd_.yaxis[0].minor_tick_out = 0
pd_.add_layout(Title(text="same init / global batch / LR schedule \u00b7 120 steps", align="left",
                     text_font=FONT, text_font_size="16px", text_font_style="normal",
                     text_color="#6b7280", standoff=13), "above")
pd_.add_layout(Title(text="train_gpt fp32 \u2014 single GPU vs DDP \u00d72", align="left",
                     text_font=FONT, text_font_size=TITLE_SIZE, text_font_style="bold",
                     text_color="#111111", standoff=-8), "above")
rd1 = pd_.line(D_STEP, D_SINGLE, line_color=C_EAGER, line_width=1.6)
rd2 = pd_.line(D_STEP, D_DDP, line_color=C_MINI, line_width=1.4, line_dash="4 3")
txt(pd_, -3.6, 2.46, "max |diff| 0.0033, mean |diff| 0.0003", "13px", color="#333333", align="left")
lgd = Legend(items=[LegendItem(label="single GPU (1x L20), final 2.4876", renderers=[rd1]),
                    LegendItem(label="DDP 2x L20 (NCCL), final 2.4870", renderers=[rd2])],
             location="top_right", margin=8)
style_legend(lgd, "16px", gh=20)
lgd.spacing = 3
lgd.padding = 8
lgd.glyph_width = 32
pd_.add_layout(lgd, "center")

# ---------------- bottom text ----------------
bot = text_fig(2160, 340)
txt(bot, 627, 45, "(c) Convergence vs. torch eager", "38px", color="#000000", align="center", font=SERIF)
txt(bot, 1539, 45, "(d) Two-GPU DDP vs. single GPU", "38px", color="#000000", align="center", font=SERIF)
CAP_SIZE = 35.7
CAP_X0, CAP_X1 = 149, 2020
for i, line in enumerate(CAPTION):
    yy = 170 + 39.7 * i
    if i < len(CAPTION) - 1:
        words = line.split(" ")
        wsum = sum(serif_width(w, CAP_SIZE) for w in words)
        gap = (CAP_X1 - CAP_X0 - wsum) / (len(words) - 1)
        xs, x = [], CAP_X0
        for w in words:
            xs.append(x)
            x += serif_width(w, CAP_SIZE) + gap
        bot.text(x=xs, y=[yy] * len(words), text=words, text_font=value(SERIF),
                 text_font_size=f"{CAP_SIZE}px", text_color="#000000",
                 text_align="left", text_baseline="middle")
    else:
        txt(bot, CAP_X0, yy, line, f"{CAP_SIZE}px", color="#000000", align="left", font=SERIF)

row1 = row(pa, column(Spacer(width=468, height=10), pb1), column(Spacer(width=582, height=10), pb2))
row3 = row(pc, column(Spacer(width=1050, height=19), pd_))
layout = column(hdr, row1, mid, row3, bot)
open("out.html", "w").write(file_html(layout, INLINE))
